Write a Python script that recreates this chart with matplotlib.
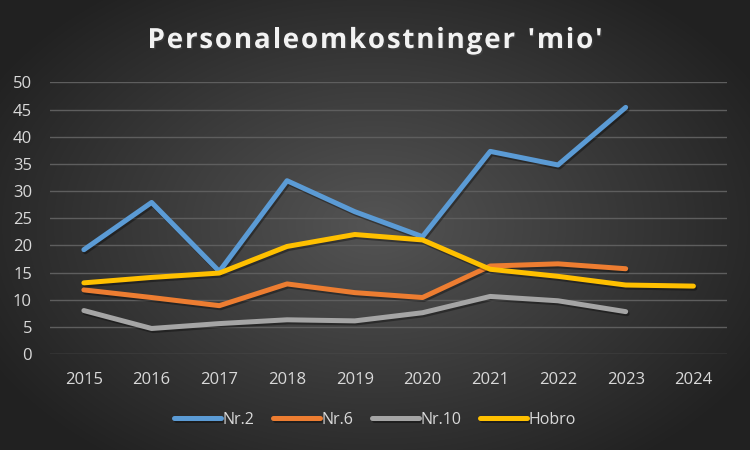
import matplotlib.pyplot as plt
import matplotlib.patheffects as pe
import numpy as np

years = ["2015", "2016", "2017", "2018", "2019", "2020", "2021", "2022", "2023", "2024"]
nr2 = [19.2, 27.9, 15.2, 31.9, 26.2, 21.6, 37.3, 34.8, 45.4]
nr6 = [11.8, 10.4, 8.9, 12.9, 11.3, 10.4, 16.2, 16.6, 15.7]
nr10 = [8.0, 4.7, 5.6, 6.3, 6.1, 7.6, 10.6, 9.8, 7.8]
hobro = [13.1, 14.1, 14.9, 19.8, 22.0, 21.0, 15.6, 14.3, 12.7, 12.5]

series = [
    ("Nr.2", nr2, "#5B9BD5"),
    ("Nr.6", nr6, "#ED7D31"),
    ("Nr.10", nr10, "#A5A5A5"),
    ("Hobro", hobro, "#FFC000"),
]
title = "Personaleomkostninger 'mio'"

fig = plt.figure(figsize=(7.5, 4.5), dpi=100)

# radial gradient background
bg = fig.add_axes([0, 0, 1, 1], zorder=-10)
yy, xx = np.mgrid[-1:1:450j, -1:1:750j]
r = np.sqrt(xx ** 2 + (yy * 0.9) ** 2)
shade = np.clip(0.33 - 0.17 * r, 0.13, 0.33)
bg.imshow(np.dstack([shade] * 3), aspect="auto", extent=[0, 1, 0, 1])
bg.axis("off")

ax = fig.add_axes([0.0667, 0.2133, 0.903, 0.6036])
ax.set_facecolor("none")
x = np.arange(len(years))
shadow = [pe.SimpleLineShadow(offset=(1, -1.5), alpha=0.35, shadow_color="black"), pe.Normal()]
for name, vals, color in series:
    ax.plot(x[:len(vals)], vals, color=color, linewidth=3.6, label=name,
            solid_capstyle="round", solid_joinstyle="round", path_effects=shadow)

ax.set_xlim(-0.5, len(years) - 0.5)
ax.set_ylim(0, 50)
ax.set_yticks(range(0, 51, 5))
ax.set_xticks(x)
ax.set_xticklabels(years)
ax.grid(True, axis="y", color="#5E5E5E", linewidth=1)
ax.set_axisbelow(True)
for s in ax.spines.values():
    s.set_visible(False)
ax.tick_params(length=0, colors="#D9D9D9", labelsize=12, pad=13)
for lbl in ax.get_xticklabels() + ax.get_yticklabels():
    lbl.set_family("Open Sans")

# title with letter spacing, drawn char by char to fill ~455 px
renderer = fig.canvas.get_renderer()
tkw = dict(color="#F2F2F2", fontsize=20, fontweight="bold", family="Open Sans",
           va="center", ha="left",
           path_effects=[pe.withSimplePatchShadow(offset=(1, -1), alpha=0.5)])
widths = []
for ch in title:
    t = fig.text(0, 0, ch if ch != " " else "n", **tkw)
    w = t.get_window_extent(renderer).width
    if ch == " ":
        w *= 0.5
    widths.append(w)
    t.remove()
spacing = (455 - sum(widths)) / (len(title) - 1)
xpos = 375 - 455 / 2
for ch, w in zip(title, widths):
    if ch != " ":
        fig.text(xpos / 750, 0.91, ch, **tkw)
    xpos += w + spacing

leg = fig.legend(loc="center", bbox_to_anchor=(0.5, 0.067), ncol=4, frameon=False,
                 handlelength=2.9, handletextpad=0.1, columnspacing=1.2,
                 prop={"family": "Open Sans", "size": 11.5})
for t in leg.get_texts():
    t.set_color("#D9D9D9")

fig.savefig("out.png", dpi=100)
